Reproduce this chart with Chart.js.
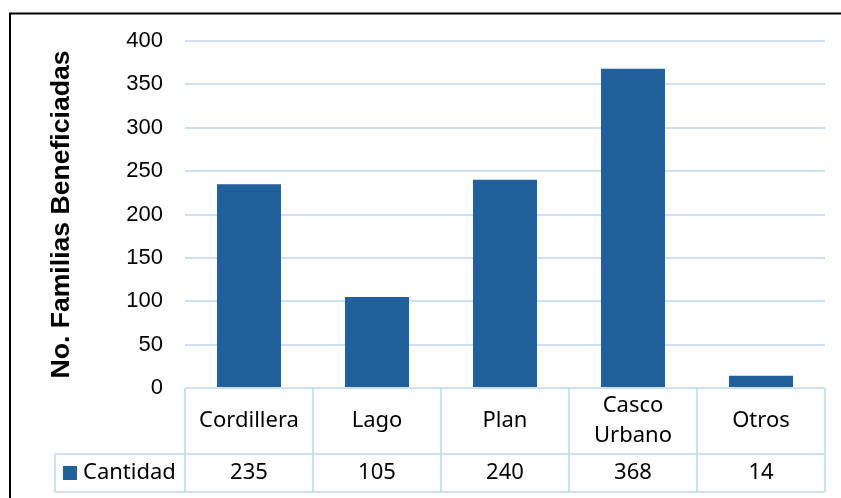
<!DOCTYPE html>
<html>
<head>
<meta charset="utf-8">
<script src="https://cdn.jsdelivr.net/npm/chart.js@4/dist/chart.umd.min.js"></script>
<style>
  html, body { margin: 0; padding: 0; background: #fff; }
  canvas { display: block; }
</style>
</head>
<body>
<canvas id="chart" width="841" height="498"></canvas>
<script>
// data
const categories = ["Cordillera", "Lago", "Plan", "Casco Urbano", "Otros"];
const cantidad = [235, 105, 240, 368, 14];
const seriesName = "Cantidad";
const yTicks = [0, 50, 100, 150, 200, 250, 300, 350, 400];

const barColor = "#22609b";
const lineBlue = "#cddff2";
const tableFont = "22px 'Noto Sans'";

// wrap a label into lines that fit a cell
function wrap(ctx, text, maxW) {
    const words = text.split(" ");
    const lines = [];
    let cur = "";
    words.forEach(w => {
        const test = cur ? cur + " " + w : w;
        if (cur && ctx.measureText(test).width > maxW) {
            lines.push(cur);
            cur = w;
        } else {
            cur = test;
        }
    });
    if (cur) lines.push(cur);
    return lines;
}

// Excel style data table under the plot + outer frame
const dataTable = {
    id: "dataTable",
    afterDraw(chart) {
        const ctx = chart.ctx;
        const x = chart.scales.x;
        const area = chart.chartArea;
        const step = x.getPixelForValue(1) - x.getPixelForValue(0);
        const top = area.bottom;
        const midRow = top + 66;
        const bottom = midRow + 38;
        const legendLeft = 55;

        ctx.save();
        ctx.strokeStyle = lineBlue;
        ctx.lineWidth = 2;
        ctx.beginPath();
        ctx.moveTo(area.left, top); ctx.lineTo(area.right, top);
        ctx.moveTo(legendLeft, midRow); ctx.lineTo(area.right, midRow);
        ctx.moveTo(legendLeft, bottom); ctx.lineTo(area.right, bottom);
        ctx.moveTo(legendLeft, midRow); ctx.lineTo(legendLeft, bottom);
        for (let i = 0; i <= categories.length; i++) {
            const px = x.getPixelForValue(i) - step / 2;
            ctx.moveTo(px, top); ctx.lineTo(px, bottom);
        }
        ctx.stroke();

        ctx.fillStyle = "#000";
        ctx.font = tableFont;
        ctx.textAlign = "center";
        ctx.textBaseline = "middle";
        categories.forEach((c, i) => {
            const cx = x.getPixelForValue(i);
            const lines = wrap(ctx, c, step - 12);
            const lh = 30;
            const y0 = (top + midRow) / 2 - (lines.length - 1) * lh / 2;
            lines.forEach((l, j) => ctx.fillText(l, cx, y0 + j * lh));
            ctx.fillText(String(cantidad[i]), cx, (midRow + bottom) / 2);
        });

        // legend key
        const ry = (midRow + bottom) / 2;
        ctx.fillStyle = barColor;
        ctx.fillRect(63, ry - 7, 14, 14);
        ctx.fillStyle = "#000";
        ctx.textAlign = "left";
        ctx.fillText(seriesName, 83, ry);

        // chart frame
        ctx.strokeStyle = "#000";
        ctx.lineWidth = 2;
        ctx.beginPath();
        ctx.moveTo(10, 498); ctx.lineTo(10, 13.5); ctx.lineTo(841, 13.5);
        ctx.stroke();
        ctx.restore();
    }
};

new Chart(document.getElementById("chart"), {
    type: "bar",
    data: {
        labels: categories,
        datasets: [{
            label: seriesName,
            data: cantidad,
            backgroundColor: barColor,
            borderWidth: 0,
            barPercentage: 0.5,
            categoryPercentage: 1
        }]
    },
    options: {
        responsive: false,
        animation: false,
        layout: { padding: { left: 10, right: 16, top: 41, bottom: 110 } },
        plugins: {
            legend: { display: false },
            tooltip: { enabled: false }
        },
        scales: {
            x: { display: false },
            y: {
                min: yTicks[0],
                max: yTicks[yTicks.length - 1],
                afterFit(scale) { scale.width = 175; },
                afterBuildTicks(scale) { scale.ticks = yTicks.map(v => ({ value: v })); },
                ticks: {
                    padding: 22,
                    color: "#000",
                    font: { family: "'Liberation Sans', Arial, sans-serif", size: 22 }
                },
                grid: { color: lineBlue, lineWidth: 2, drawTicks: false },
                border: { display: false },
                title: {
                    display: true,
                    text: "No. Familias Beneficiadas",
                    color: "#000",
                    padding: { top: 36, bottom: 0 },
                    font: { family: "'Liberation Sans', Arial, sans-serif", size: 26.6, weight: "bold" }
                }
            }
        }
    },
    plugins: [dataTable]
});
</script>
</body>
</html>
